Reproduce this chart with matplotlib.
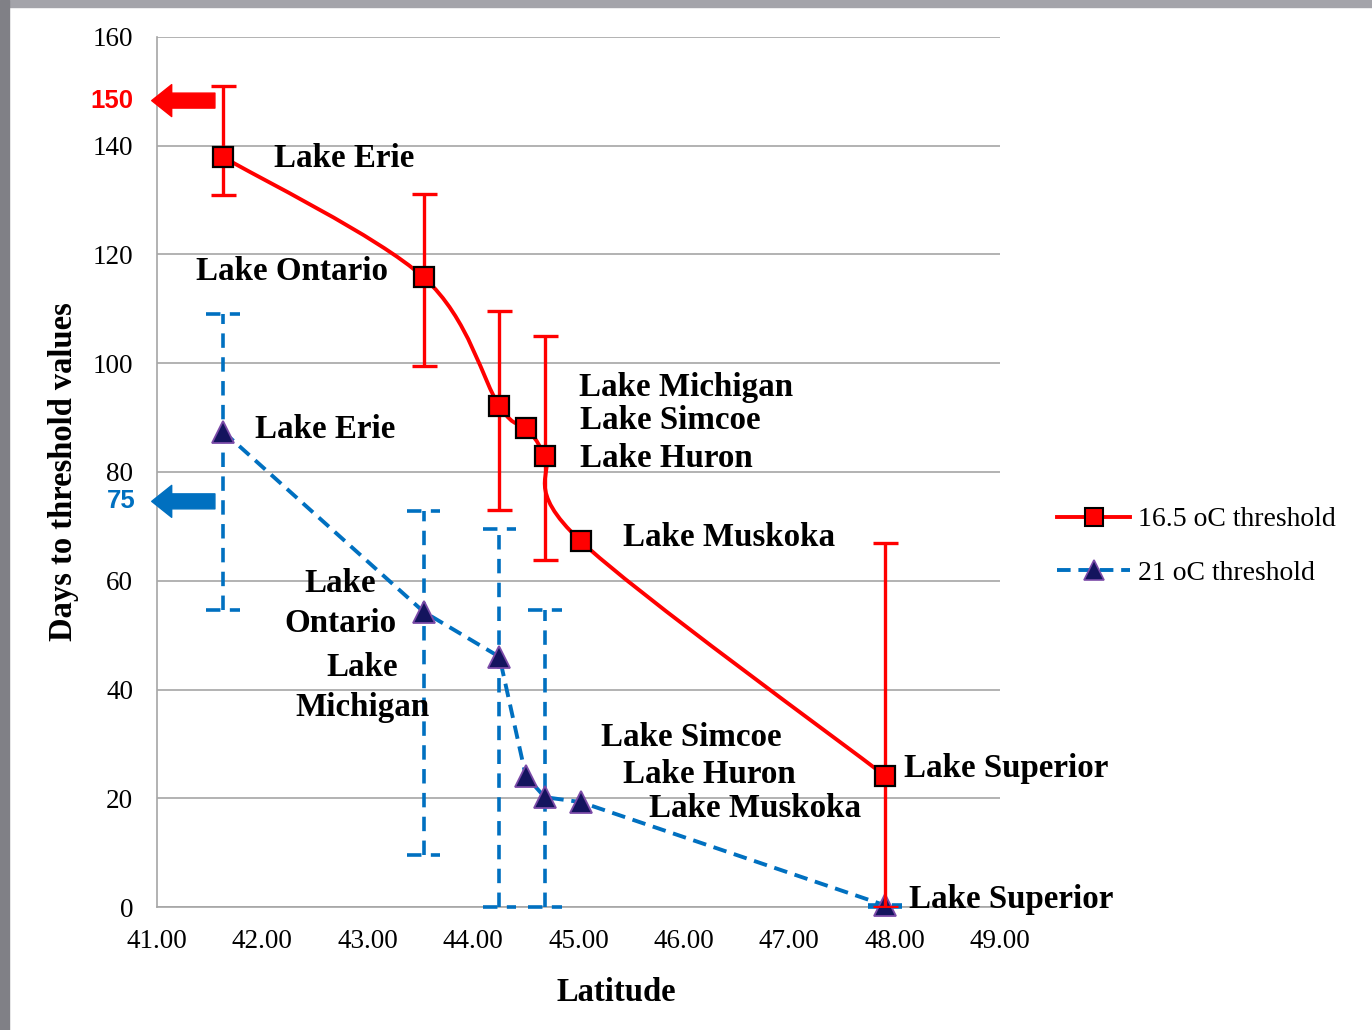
import numpy as np
import matplotlib
matplotlib.use("Agg")
import matplotlib.pyplot as plt
from matplotlib.path import Path
from matplotlib.patches import PathPatch, Rectangle
from matplotlib.lines import Line2D

# data
lat = [41.63, 43.53, 44.25, 44.50, 44.68, 45.02, 47.91]
lakes = ["Lake Erie", "Lake Ontario", "Lake Michigan", "Lake Simcoe",
         "Lake Huron", "Lake Muskoka", "Lake Superior"]

days_165 = [137.9, 115.8, 92.1, 88.1, 82.9, 67.3, 24.1]
hi_165 = [151.0, 131.1, 109.6, np.nan, 105.0, np.nan, 67.0]
lo_165 = [131.0, 99.5, 73.0, np.nan, 63.8, np.nan, 0.0]

days_21 = [87.4, 54.3, 46.0, 24.1, 20.2, 19.3, 0.3]
hi_21 = [109.0, 72.8, 69.5, np.nan, 54.6, np.nan, 0.3]
lo_21 = [54.6, 9.6, 0.0, np.nan, 0.0, np.nan, 0.0]

RED = "#FF0000"
BLUE = "#0070C0"
SERIF = "Liberation Serif"
SANS = "Liberation Sans"


def smooth(x, y):
    # bezier curve through the points, like excel's smoothed line
    p = np.column_stack([x, y]).astype(float)
    n = len(p)
    verts = [p[0]]
    codes = [Path.MOVETO]
    for i in range(n - 1):
        p0 = p[i - 1] if i > 0 else p[i]
        p3 = p[i + 2] if i + 2 < n else p[i + 1]
        verts += [p[i] + (p[i + 1] - p0) / 6, p[i + 1] - (p3 - p[i]) / 6, p[i + 1]]
        codes += [Path.CURVE4] * 3
    return Path(verts, codes)


fig = plt.figure(figsize=(13.72, 10.30), dpi=100)
fig.patch.set_facecolor("white")
# grey window frame on top and left
fig.patches.append(Rectangle((0, 0.993), 1, 0.007, transform=fig.transFigure,
                             color="#A4A4AA", zorder=0))
fig.patches.append(Rectangle((0, 0), 0.0066, 1, transform=fig.transFigure,
                             color="#808086", zorder=0))

ax = fig.add_axes([0.1144, 0.1194, 0.6145, 0.8447])
ax.set_xlim(41, 49)
ax.set_ylim(0, 160)

# 21 oC series
x = np.array(lat)
d21 = np.array(days_21)
up = np.array(hi_21) - d21
dn = d21 - np.array(lo_21)
dash = (0, (4, 2.6))
eb = ax.errorbar(x, d21, yerr=[dn, up], fmt="none", ecolor=BLUE,
                 elinewidth=2.6, capsize=0, zorder=3)
eb[2][0].set_linestyle(dash)
cap_w = 0.16
ok = ~np.isnan(up)
ax.hlines(np.array(hi_21)[ok], x[ok] - cap_w, x[ok] + cap_w, colors=BLUE,
          lw=2.6, linestyles=dash, zorder=3)
ax.hlines(np.array(lo_21)[ok], x[ok] - cap_w, x[ok] + cap_w, colors=BLUE,
          lw=2.6, linestyles=dash, zorder=3, clip_on=False)
ax.plot(lat, days_21, color=BLUE, lw=2.8, ls=(0, (3.5, 2.0)), zorder=4)
ax.plot(lat, days_21, ls="none", marker="^", ms=16, mfc="#14145E",
        mec="#7B4BA8", mew=1.3, zorder=6, clip_on=False)

# 16.5 oC series
d165 = np.array(days_165)
up = np.array(hi_165) - d165
dn = d165 - np.array(lo_165)
ax.add_patch(PathPatch(smooth(lat, days_165), fill=False, ec=RED, lw=2.8,
                       zorder=5))
ax.errorbar(x, d165, yerr=[dn, up], fmt="none", ecolor=RED, elinewidth=2.4,
            capsize=9, capthick=2.4, zorder=7)
ax.plot(lat, days_165, ls="none", marker="s", ms=14, mfc=RED, mec="black",
        mew=1.6, zorder=8)

# lake labels
lab = dict(fontsize=23.8, fontweight="bold", family=SERIF, va="center")
red_pos = [(42.11, 137.6, "left"), (43.19, 116.8, "right"), (45.00, 95.6, "left"),
           (45.01, 89.5, "left"), (45.01, 82.4, "left"), (45.42, 68.0, "left"),
           (48.09, 25.4, "left")]
for name, (tx, ty, ha) in zip(lakes, red_pos):
    ax.text(tx, ty, name, ha=ha, zorder=9, **lab)

blue_pos = [(41.93, 87.9, "left"), (42.74, 55.8, "center"), (42.95, 40.3, "center"),
            (45.21, 31.2, "left"), (45.42, 24.4, "left"), (45.67, 18.2, "left"),
            (48.14, 1.3, "left")]
for name, (tx, ty, ha) in zip(lakes, blue_pos):
    if ha == "center":
        name = name.replace(" ", "\n")
    ax.text(tx, ty, name, ha=ha, multialignment="center", linespacing=1.38,
            zorder=9, **lab)

# threshold markers on the y axis
for val, yy, col, tx in [("150", 148.3, RED, 40.573), ("75", 74.6, BLUE, 40.658)]:
    ax.annotate("", xy=(40.95, yy), xytext=(41.55, yy),
                arrowprops=dict(arrowstyle="simple,head_length=0.72,head_width=1.15,tail_width=0.54",
                                mutation_scale=20, color=col, shrinkA=0, shrinkB=0),
                annotation_clip=False, zorder=10)
    ax.text(tx, yy, val, color=col, fontsize=18.5, fontweight="bold", family=SANS,
            ha="center", va="center", clip_on=False)

# axes styling
ax.set_xticks(np.arange(41, 50, 1))
ax.set_xticklabels([f"{v:.2f}" for v in np.arange(41, 50, 1)])
ax.set_yticks(np.arange(0, 161, 20))
ax.tick_params(length=0, labelsize=19.5)
for t in ax.get_xticklabels() + ax.get_yticklabels():
    t.set_family(SERIF)
ax.tick_params(axis="y", pad=17)
ax.tick_params(axis="x", pad=16)
ax.grid(axis="y", color="#A6A6A6", lw=1.2)
ax.set_axisbelow(True)
for s in ["top", "right"]:
    ax.spines[s].set_visible(False)
for s in ["left", "bottom"]:
    ax.spines[s].set_color("#A6A6A6")
    ax.spines[s].set_linewidth(1.2)

ax.set_ylabel("Days to threshold values", fontsize=23.5, fontweight="bold", family=SERIF)
ax.yaxis.set_label_coords(-0.0925, 0.5)
ax.set_xlabel("Latitude", fontsize=23.5, fontweight="bold", family=SERIF)
ax.xaxis.set_label_coords(0.545, -0.080)

handles = [
    Line2D([], [], color=RED, lw=2.8, marker="s", ms=13, mfc=RED, mec="black", mew=1.5),
    Line2D([], [], color=BLUE, lw=2.8, ls=(0, (3.5, 2.0)), marker="^", ms=14,
           mfc="#14145E", mec="#7B4BA8", mew=1.2),
]
fig.legend(handles, ["16.5 oC threshold", "21 oC threshold"], loc="center left",
           bbox_to_anchor=(0.7525, 0.4694), frameon=False, handlelength=2.6,
           labelspacing=1.02, handletextpad=0.3, prop=dict(family=SERIF, size=20))

fig.savefig("out.png", dpi=100)
